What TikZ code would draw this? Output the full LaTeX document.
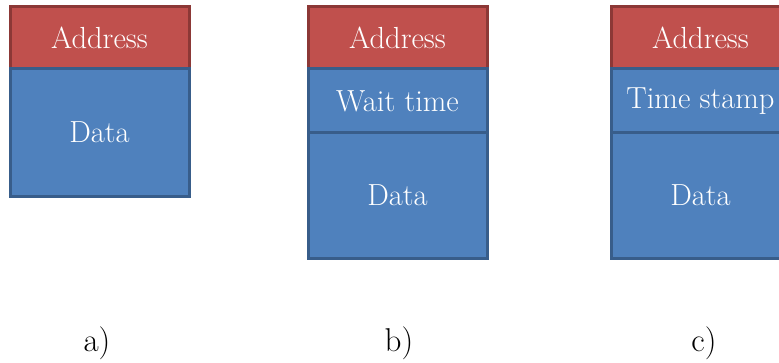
\documentclass[tikz,border=0pt]{standalone}
\usepackage{tikz}
\usetikzlibrary{positioning}
\definecolor{addrred}{HTML}{C0504D}
\definecolor{addrline}{HTML}{8C3836}
\definecolor{fieldblue}{HTML}{4F81BD}
\definecolor{fieldline}{HTML}{385D8A}
\begin{document}
\begin{tikzpicture}[x=1pt,y=1pt]
  \tikzstyle{every node}=[draw, rectangle, line width=3pt, text=white, minimum width=179pt, inner sep=0pt, outer sep=0pt, font=\fontsize{30.5}{33}\selectfont]
  \tikzstyle{addr}=[fill=addrred, draw=addrline, minimum height=62pt]
  \tikzstyle{field}=[fill=fieldblue, draw=fieldline]
  \tikzstyle{caption}=[draw=none, minimum width=0pt, text=black, font=\fontsize{33}{36}\selectfont]

  \useasboundingbox (0,0) rectangle (779,362);

  % Packet a)
  \node[addr, anchor=north west] (AddrA) at (10,355) {Address};
  \node[field, minimum height=127pt, below=0pt of AddrA] (DataA) {Data};

  % Packet b)
  \node[addr, anchor=north west] (AddrB) at (308,355) {Address};
  \node[field, minimum height=64pt, below=0pt of AddrB] (WaitB) {Wait time};
  \node[field, minimum height=125pt, below=0pt of WaitB] (DataB) {Data};

  % Packet c)
  \node[addr, anchor=north west] (AddrC) at (611,355) {Address};
  \node[field, minimum height=64pt, below=0pt of AddrC] (StampC) {Time stamp};
  \node[field, minimum height=125pt, below=0pt of StampC] (DataC) {Data};

  % Captions
  \node[caption] (CapA) at (97,19) {a)};
  \node[caption] (CapB) at (399,19) {b)};
  \node[caption] (CapC) at (704,19) {c)};
\end{tikzpicture}
\end{document}
